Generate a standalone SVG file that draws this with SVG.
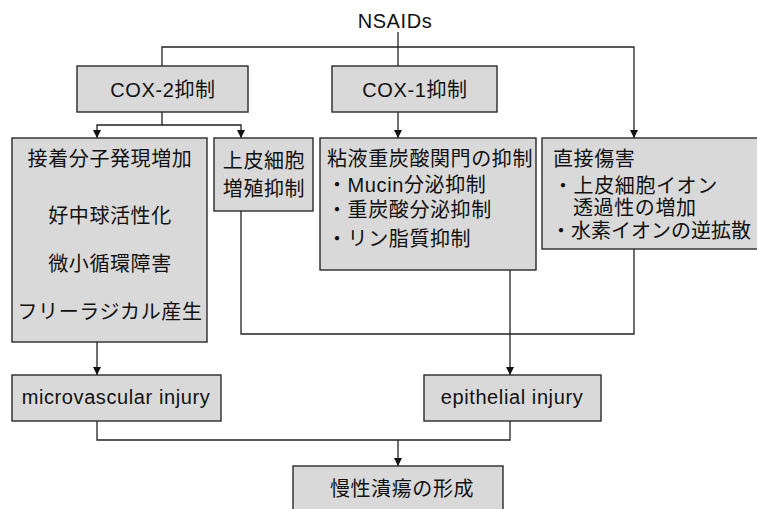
<svg xmlns="http://www.w3.org/2000/svg" width="757" height="509" viewBox="0 0 757 509">
<defs>
<style>
.box{fill:#d9d9d9;stroke:#2a2a2a;stroke-width:1.4}
.t{font-family:"Liberation Sans","Noto Sans CJK JP",sans-serif;font-size:20px;fill:#111;letter-spacing:0.6px}
.m{text-anchor:middle}
.c{fill:none;stroke:#222;stroke-width:1.3}
</style>
<marker id="ah" markerWidth="8" markerHeight="8" viewBox="0 0 8 8" refX="8" refY="4" orient="auto" markerUnits="userSpaceOnUse">
<path d="M0,0 L8,4 L0,8 Z" fill="#111"/>
</marker>
</defs>
<rect width="757" height="509" fill="#fff"/>
<g id="connectors">
<path class="c" d="M398,32 V66"/>
<path class="c" d="M162,66 V47 H634 V138" marker-end="url(#ah)"/>
<path class="c" d="M162,112 V125 H97 V138" marker-end="url(#ah)"/>
<path class="c" d="M162,125 H241 V138" marker-end="url(#ah)"/>
<path class="c" d="M398,112 V138" marker-end="url(#ah)"/>
<path class="c" d="M97,342 V375" marker-end="url(#ah)"/>
<path class="c" d="M241,211 V334 H634 V249"/>
<path class="c" d="M510,270 V375" marker-end="url(#ah)"/>
<path class="c" d="M97,421 V440 H510 V421"/>
<path class="c" d="M398,440 V466" marker-end="url(#ah)"/>
</g>
<g id="nsaids">
<text class="t m" x="395" y="28">NSAIDs</text>
</g>
<g id="cox2">
<rect class="box" x="77" y="66" width="171" height="46"/>
<text class="t m" x="163" y="97">COX-2抑制</text>
</g>
<g id="cox1">
<rect class="box" x="332" y="66" width="165" height="46"/>
<text class="t m" x="415" y="97">COX-1抑制</text>
</g>
<g id="adhesion">
<rect class="box" x="12" y="138" width="195" height="204"/>
<text class="t m" x="110" y="166">接着分子発現増加</text>
<text class="t m" x="110" y="223">好中球活性化</text>
<text class="t m" x="110" y="271">微小循環障害</text>
<text class="t m" x="110" y="319">フリーラジカル産生</text>
</g>
<g id="epi-prolif">
<rect class="box" x="214" y="138" width="99" height="73"/>
<text class="t m" x="264" y="168">上皮細胞</text>
<text class="t m" x="264" y="196">増殖抑制</text>
</g>
<g id="mucus">
<rect class="box" x="320" y="138" width="216" height="132"/>
<text class="t" x="327" y="166">粘液重炭酸関門の抑制</text>
<text class="t" x="327" y="192">・Mucin分泌抑制</text>
<text class="t" x="327" y="217">・重炭酸分泌抑制</text>
<text class="t" x="327" y="246">・リン脂質抑制</text>
</g>
<g id="direct">
<rect class="box" x="542" y="138" width="220" height="111"/>
<text class="t" x="553" y="166">直接傷害</text>
<text class="t" x="553" y="193">・上皮細胞イオン</text>
<text class="t" x="573" y="215">透過性の増加</text>
<text class="t" x="551" y="238" style="letter-spacing:0">・水素イオンの逆拡散</text>
</g>
<g id="microvascular">
<rect class="box" x="12" y="375" width="209" height="46"/>
<text class="t m" x="116" y="404">microvascular injury</text>
</g>
<g id="epithelial">
<rect class="box" x="424" y="375" width="177" height="46"/>
<text class="t m" x="512" y="404">epithelial injury</text>
</g>
<g id="ulcer">
<rect class="box" x="293" y="466" width="210" height="50"/>
<text class="t m" x="402" y="496">慢性潰瘍の形成</text>
</g>
</svg>
